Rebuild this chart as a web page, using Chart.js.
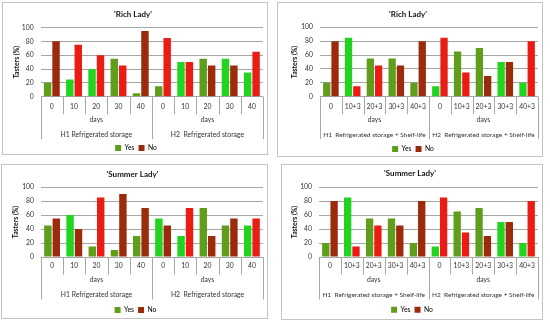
<!DOCTYPE html>
<html><head><meta charset="utf-8">
<script src="https://cdn.jsdelivr.net/npm/chart.js@4"></script>
<style>
html,body{margin:0;padding:0;background:#fff;}
body{width:550px;height:324px;position:relative;overflow:hidden;}
.panel{position:absolute;border:1px solid #c4c4c4;overflow:hidden;box-sizing:border-box;background:#fff;}
.panel canvas{position:absolute;left:0;top:0;}
</style></head><body>
<div class="panel" id="p1"><canvas id="c1"></canvas></div>
<div class="panel" id="p2"><canvas id="c2"></canvas></div>
<div class="panel" id="p3"><canvas id="c3"></canvas></div>
<div class="panel" id="p4"><canvas id="c4"></canvas></div>
<script>
// ---- data ----
const catsStorage = ['0','10','20','30','40','0','10','20','30','40'];
const catsShelf = ['0','10+3','20+3','30+3','40+3','0','10+3','20+3','30+3','40+3'];
const groupsStorage = ['H1 Refrigerated storage','H2  Refrigerated storage'];
const groupsShelf = ['H1  Refrigerated storage + Shelf-life','H2  Refrigerated storage + Shelf-life'];
const groupAxisTitle = 'days';
const seriesNames = ['Yes','No'];
const yAxisTitle = 'Tasters (%)';
const yMin = 0, yMax = 100, yStep = 20;

const richStorageYes = [20,25,40,55,5,15,50,55,55,35];
const richStorageNo  = [80,75,60,45,95,85,50,45,45,65];
const richShelfYes   = [20,85,55,55,20,15,65,70,50,20];
const richShelfNo    = [80,15,45,45,80,85,35,30,50,80];
const summerStorageYes = [45,60,15,10,30,55,30,70,45,45];
const summerStorageNo  = [55,40,85,90,70,45,70,30,55,55];
const summerShelfYes   = [20,85,55,55,20,15,65,70,50,20];
const summerShelfNo    = [80,15,45,45,80,85,35,30,50,80];

// ---- styles ----
const F = 'Lato, "Open Sans", sans-serif';
const FS = 6.8;   // regular text size
const PAL = {o:'#5f9e1b', g:'#22d41f', d:'#9c2b0b', r:'#ea1c14'};
const cols = s => s.split('').map(c => PAL[c]);

const groupPlugin = {
  id:'groups',
  afterLayout(chart, args, opts){
    if (chart.legend) { chart.legend.left += opts.legendShift; chart.legend.right += opts.legendShift; }
  },
  afterDraw(chart, args, opts){
    const {ctx, chartArea, scales:{x}} = chart;
    const n = chart.data.labels.length;
    const bounds = [];
    for(let i=0;i<=n;i++){
      let px;
      if(i===0) px = x.getPixelForValue(0) - (x.getPixelForValue(1)-x.getPixelForValue(0))/2;
      else if(i===n) px = x.getPixelForValue(n-1) + (x.getPixelForValue(n-1)-x.getPixelForValue(n-2))/2;
      else px = (x.getPixelForValue(i-1)+x.getPixelForValue(i))/2;
      bounds.push(px);
    }
    const gs = n / opts.groups.length;
    const b = chartArea.bottom;
    ctx.save();
    ctx.strokeStyle = '#a8a8a8'; ctx.lineWidth = 1;
    bounds.forEach((px,i)=>{
      const long = i % gs === 0;
      const xx = Math.round(px)+0.5;
      ctx.beginPath(); ctx.moveTo(xx, b); ctx.lineTo(xx, b + (long?opts.longLen:opts.shortLen)); ctx.stroke();
    });
    ctx.fillStyle = '#333';
    ctx.textAlign = 'center'; ctx.textBaseline = 'middle';
    opts.groups.forEach((g,gi)=>{
      const cx = (bounds[gi*gs] + bounds[(gi+1)*gs])/2;
      ctx.font = FS + 'px ' + F;
      ctx.fillText(opts.axisTitle, cx, b + opts.daysOff);
      ctx.font = opts.groupFont + 'px ' + F;
      ctx.fillText(g, cx, b + opts.groupOff);
    });
    ctx.restore();
  }
};

function makeChart(p){
  const div = document.getElementById(p.id);
  div.style.left = p.box[0]+'px'; div.style.top = p.box[1]+'px';
  div.style.width = p.box[2]+'px'; div.style.height = p.box[3]+'px';
  const canvas = div.querySelector('canvas');
  const W = p.box[2]-2;
  const legFont = FS, legPad = 4;
  const legendTop = p.legendY - legPad - legFont/2;
  const H = Math.ceil(legendTop + legFont + legPad + 10);
  canvas.width = W; canvas.height = H;
  canvas.style.width = W+'px'; canvas.style.height = H+'px';
  const tFont = 8, tLH = tFont*1.2;
  const tPadTop = p.titleY - tLH/2;
  const tPadBot = p.top - tPadTop - tLH;
  const lblLH = FS*1.2;
  new Chart(canvas, {
    type:'bar',
    data:{labels:p.labels, datasets:[
      {label:seriesNames[0], data:p.yes, backgroundColor:p.yesCol, borderWidth:0, categoryPercentage:0.76, barPercentage:0.88},
      {label:seriesNames[1], data:p.no, backgroundColor:p.noCol, borderWidth:0, categoryPercentage:0.76, barPercentage:0.88}
    ]},
    options:{
      responsive:false, animation:false, devicePixelRatio:1,
      layout:{padding:{left:0,right:W-p.right,top:0,bottom:H-legendTop-(legFont+legPad+10)}},
      plugins:{
        title:{display:true,text:p.title,color:'#111',font:{family:F,size:tFont,weight:'bold'},padding:{top:tPadTop,bottom:tPadBot}},
        legend:{position:'bottom',labels:{boxWidth:6,boxHeight:6,padding:legPad,color:'#222',font:{family:F,size:legFont},
          generateLabels:()=>[
            {text:seriesNames[0],fillStyle:PAL.o,strokeStyle:PAL.o,lineWidth:0,hidden:false,datasetIndex:0},
            {text:seriesNames[1],fillStyle:PAL.d,strokeStyle:PAL.d,lineWidth:0,hidden:false,datasetIndex:1}]}},
        tooltip:{enabled:false},
        groups:{groups:p.groups,axisTitle:groupAxisTitle,shortLen:17.5,longLen:42.5,daysOff:23,groupOff:38.3,groupFont:p.groupFont,legendShift:p.legendShift}
      },
      scales:{
        x:{grid:{display:false,drawTicks:false}, border:{display:false},
           ticks:{padding:p.tickY-lblLH/2,color:'#333',font:{family:F,size:FS},autoSkip:false,maxRotation:0},
           afterFit(s){ s.height = legendTop - p.bottom; }},
        y:{min:yMin,max:yMax,
           ticks:{stepSize:yStep,padding:7,color:'#333',font:{family:F,size:FS}},
           grid:{color:'#a6a6a6',drawTicks:false},
           border:{display:false},
           title:{display:true,text:yAxisTitle,color:'#111',font:{family:F,size:FS,weight:'bold'},padding:{top:p.yTitleX-FS*0.6,bottom:0}},
           afterFit(s){ s.width = p.left; }}
      }
    },
    plugins:[groupPlugin]
  });
}

makeChart({id:'p1', box:[2,2,266,153], title:"'Rich Lady'", labels:catsStorage, groups:groupsStorage,
  yes:richStorageYes, no:richStorageNo, yesCol:cols('oggooogogg'), noCol:cols('drrrdrrddr'),
  titleY:11, top:24.5, bottom:93.7, left:37.7, right:260, legendY:145, tickY:10.3, yTitleX:14, groupFont:6.8, legendShift:3});
makeChart({id:'p2', box:[277,2,266,155], title:"'Rich Lady'", labels:catsShelf, groups:groupsShelf,
  yes:richShelfYes, no:richShelfNo, yesCol:cols('ogooogoogg'), noCol:cols('drrddrrddr'),
  titleY:11, top:24.3, bottom:93.7, left:42, right:260, legendY:146, tickY:10.6, yTitleX:17, groupFont:6.5, legendShift:5});
makeChart({id:'p3', box:[1,164,267,155], title:"'Summer Lady'", labels:catsStorage, groups:groupsStorage,
  yes:summerStorageYes, no:summerStorageNo, yesCol:cols('ogooogggog').map((c,i)=>i===7?PAL.o:c), noCol:cols('ddrdddrddr'),
  titleY:9, top:22, bottom:92, left:39, right:261, legendY:145, tickY:9, yTitleX:14, groupFont:6.8, legendShift:3});
makeChart({id:'p4', box:[281,164,262,156], title:"'Summer Lady'", labels:catsShelf, groups:groupsShelf,
  yes:summerShelfYes, no:summerShelfNo, yesCol:cols('ogooogoogg'), noCol:cols('drrddrrddr'),
  titleY:8, top:22, bottom:92, left:37, right:256, legendY:144.7, tickY:9.3, yTitleX:13, groupFont:6.5, legendShift:2});
</script>
</body></html>
